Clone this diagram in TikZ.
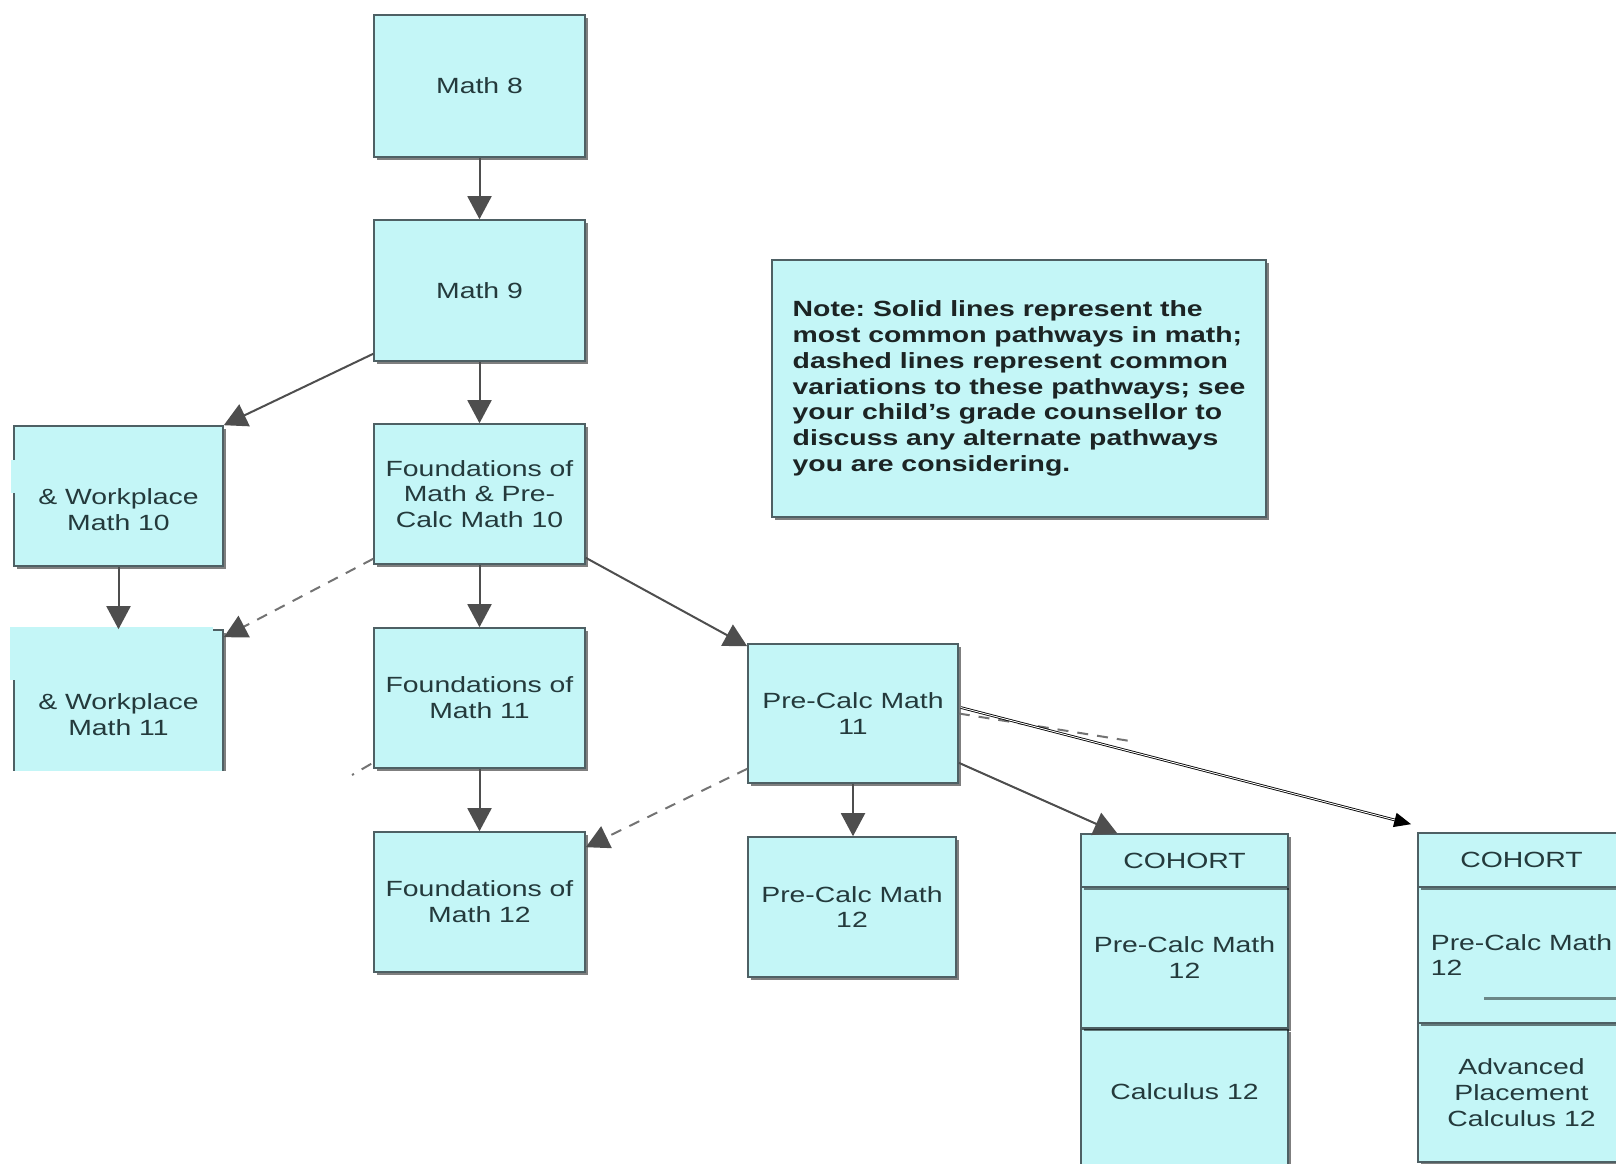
\documentclass[tikz,border=0pt]{standalone}
\usepackage{fontspec}
\setmainfont{Liberation Sans}[FakeStretch=1.29]
\usetikzlibrary{arrows.meta,shadows,calc}
\definecolor{boxfill}{RGB}{196,246,247}
\definecolor{boxline}{RGB}{78,96,100}
\definecolor{boxtext}{RGB}{36,58,60}
\definecolor{arrowgray}{RGB}{78,78,78}
\definecolor{dashgray}{RGB}{115,115,115}
\definecolor{notetext}{RGB}{28,36,36}
\frenchspacing
\tikzset{
  box/.style={rectangle, draw=boxline, line width=1.6pt, fill=boxfill, text=boxtext,
    align=center, inner sep=2pt, font=\fontsize{22pt}{25.8pt}\selectfont,
    drop shadow={shadow xshift=3pt, shadow yshift=-3pt, opacity=0.5, fill=black}},
  flow/.style={draw=arrowgray, line width=2pt, -{Triangle[length=23pt,width=24pt,color=arrowgray]}},
  altflow/.style={flow, draw=dashgray, dash pattern=on 11pt off 9pt},
  altline/.style={draw=dashgray, line width=2pt, dash pattern=on 11pt off 9pt},
  patch/.style={fill=boxfill},
}
\begin{document}
\begin{tikzpicture}[x=1pt, y=-1pt]
\useasboundingbox (0,0) rectangle (1616,1163);

% main column
\node[box, minimum width=211pt, minimum height=142pt] (m8) at (479.5,86) {Math 8};
\node[box, minimum width=211pt, minimum height=141pt] (m9) at (479.5,290.5) {Math 9};
\node[box, minimum width=211pt, minimum height=140pt] (fpc10) at (479.5,494) {Foundations of\\Math \& Pre-\\Calc Math 10};
\node[box, minimum width=211pt, minimum height=140pt] (f11) at (479.5,698) {Foundations of\\Math 11};
\node[box, minimum width=211pt, minimum height=140pt] (f12) at (479.5,902) {Foundations of\\Math 12};

% left column
\node[box, minimum width=209pt, minimum height=140pt] (aw10) at (118.5,496) {\strut\\\& Workplace\\Math 10};
\node[box, minimum width=209pt, minimum height=142pt] (aw11) at (118.5,701) {\strut\\\& Workplace\\Math 11};
\fill[white] (0,771) rectangle (240,812);
\fill[patch] (10,627) rectangle (213,680);
\fill[patch] (11,460) rectangle (17,493);

% pre-calc column
\node[box, minimum width=210pt, minimum height=139pt] (pc11) at (853,713.5) {Pre-Calc Math\\11};
\node[box, minimum width=208pt, minimum height=140pt] (pc12) at (852,907) {Pre-Calc Math\\12};

% note
\node[box, minimum width=494pt, minimum height=257pt, align=left, text=notetext,
      font=\bfseries\fontsize{22pt}{25.8pt}\selectfont] (note) at (1019,388.5)
  {Note: Solid lines represent the\\most common pathways in math;\\dashed lines represent common\\variations to these pathways; see\\your child's grade counsellor to\\discuss any alternate pathways\\you are considering.};

% cohort 1
\node[box, minimum width=207pt, minimum height=180pt, anchor=north] (c1c) at (1184.5,1028) {};
\node[box, minimum width=207pt, minimum height=141pt] (c1b) at (1184.5,957.5) {Pre-Calc Math\\12};
\node[box, minimum width=207pt, minimum height=53pt] (c1a) at (1184.5,860.5) {COHORT};
\node[text=boxtext, font=\fontsize{22pt}{25.8pt}\selectfont] (c1ctext) at (1184.5,1092) {Calculus 12};

% cohort 2
\node[box, minimum width=207pt, minimum height=139pt] (c2c) at (1521.5,1092.5) {Advanced\\Placement\\Calculus 12};
\node[box, minimum width=207pt, minimum height=136pt, align=left] (c2b) at (1521.5,955) {Pre-Calc Math\\12};
\node[box, minimum width=207pt, minimum height=54pt] (c2a) at (1521.5,860) {COHORT};
\fill[patch, drop shadow={shadow xshift=2pt, shadow yshift=-3pt, opacity=0.45, fill=black}] (1482,953) rectangle (1630,997);

% connectors
\draw[flow] (m8) -- (m9);
\draw[flow] (m9) -- (fpc10);
\draw[flow] (fpc10) -- (f11);
\draw[flow] (f11) -- (f12);
\draw[flow] (aw10) -- (aw11);
\draw[flow] (pc11.south) -- (pc11.south |- pc12.north);
\draw[flow] ($(m9.south west)+(0,-8)$) -- (aw10.north east);
\draw[altflow] ($(fpc10.south west)+(0,-6)$) -- ($(aw11.north east)+(0,8)$);
\draw[flow] ($(fpc10.south east)+(0,-7)$) -- ($(pc11.north west)+(0,3)$);
\draw[altflow] ($(pc11.south west)+(0,-15)$) -- ($(f12.north east)+(0,16)$);
\draw[flow] ($(pc11.south east)+(0,-21)$) -- ($(c1a.north west)+(37,0)$);

\coordinate (stubA) at (352,775);
\draw[altline] ($(f11.south west)+(-2,-5)$) -- (stubA);
\coordinate (stubB) at (1130,741);
\draw[altline] (pc11.east) -- (stubB);

\coordinate (dblA) at ($(pc11.east)+(2,-6)$);
\coordinate (dblB) at ($(c2a.north west)+(-6,-8)$);
\draw[black, line width=2.6pt, -{Triangle[length=17pt,width=14pt]}] (dblA) -- (dblB);
\draw[white, line width=0.9pt, shorten >=17pt] (dblA) -- (dblB);
\end{tikzpicture}
\end{document}
